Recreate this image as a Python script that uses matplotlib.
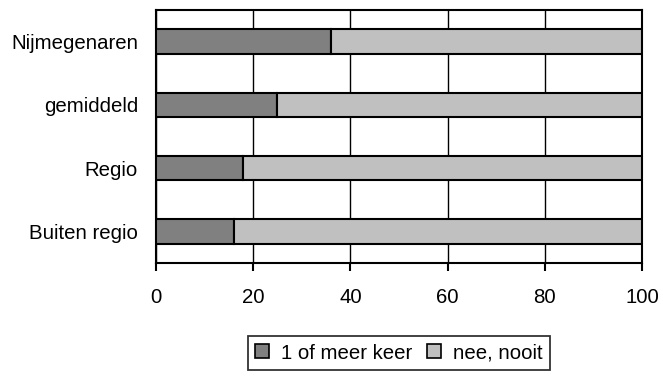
import matplotlib
matplotlib.use("Agg")
import matplotlib.pyplot as plt
import numpy as np

plt.rcParams['font.family'] = ['Liberation Sans', 'DejaVu Sans']

categories = ["Nijmegenaren", "gemiddeld", "Regio", "Buiten regio"]
ooit = [36, 25, 18, 16]
nooit = [64, 75, 82, 84]
series_labels = ["1 of meer keer", "nee, nooit"]
xticks = [0, 20, 40, 60, 80, 100]

FS = 14.7
W, H = 663, 376
fig = plt.figure(figsize=(W / 100, H / 100), dpi=100)
ax = fig.add_axes([156 / W, 1 - 263 / H, (642 - 156) / W, (263 - 10) / H])

y = np.arange(len(categories))[::-1]
h = 0.39
ax.barh(y, ooit, height=h, color="#808080", edgecolor="black", linewidth=1.5,
        label=series_labels[0], zorder=3)
ax.barh(y, nooit, left=ooit, height=h, color="#c0c0c0", edgecolor="black",
        linewidth=1.5, label=series_labels[1], zorder=3)

ax.set_xlim(0, 100)
ax.set_ylim(-0.5, len(categories) - 0.5)
ax.set_xticks(xticks)
ax.set_xticklabels([str(t) for t in xticks], fontsize=FS)
ax.set_yticks(y)
ax.set_yticklabels(categories, fontsize=FS)
ax.tick_params(axis="y", length=0, pad=13)
ax.tick_params(axis="x", direction="out", length=6, width=1.5, pad=12, color="black")
ax.xaxis.grid(True, color="black", linewidth=1.0, zorder=0)
ax.set_axisbelow(True)
for s in ax.spines.values():
    s.set_linewidth(1.5)
    s.set_color("black")

leg = ax.legend(loc="upper center", bbox_to_anchor=(0.5, -0.29), ncol=2,
                frameon=True, fancybox=False, edgecolor="black", fontsize=FS,
                handlelength=0.68, handleheight=0.68, handletextpad=0.6,
                columnspacing=0.7, borderpad=0.35, borderaxespad=0)
leg.get_frame().set_linewidth(1.3)
for p in leg.get_patches():
    p.set_linewidth(1.2)

fig.savefig("out.png", dpi=100, facecolor="white")
